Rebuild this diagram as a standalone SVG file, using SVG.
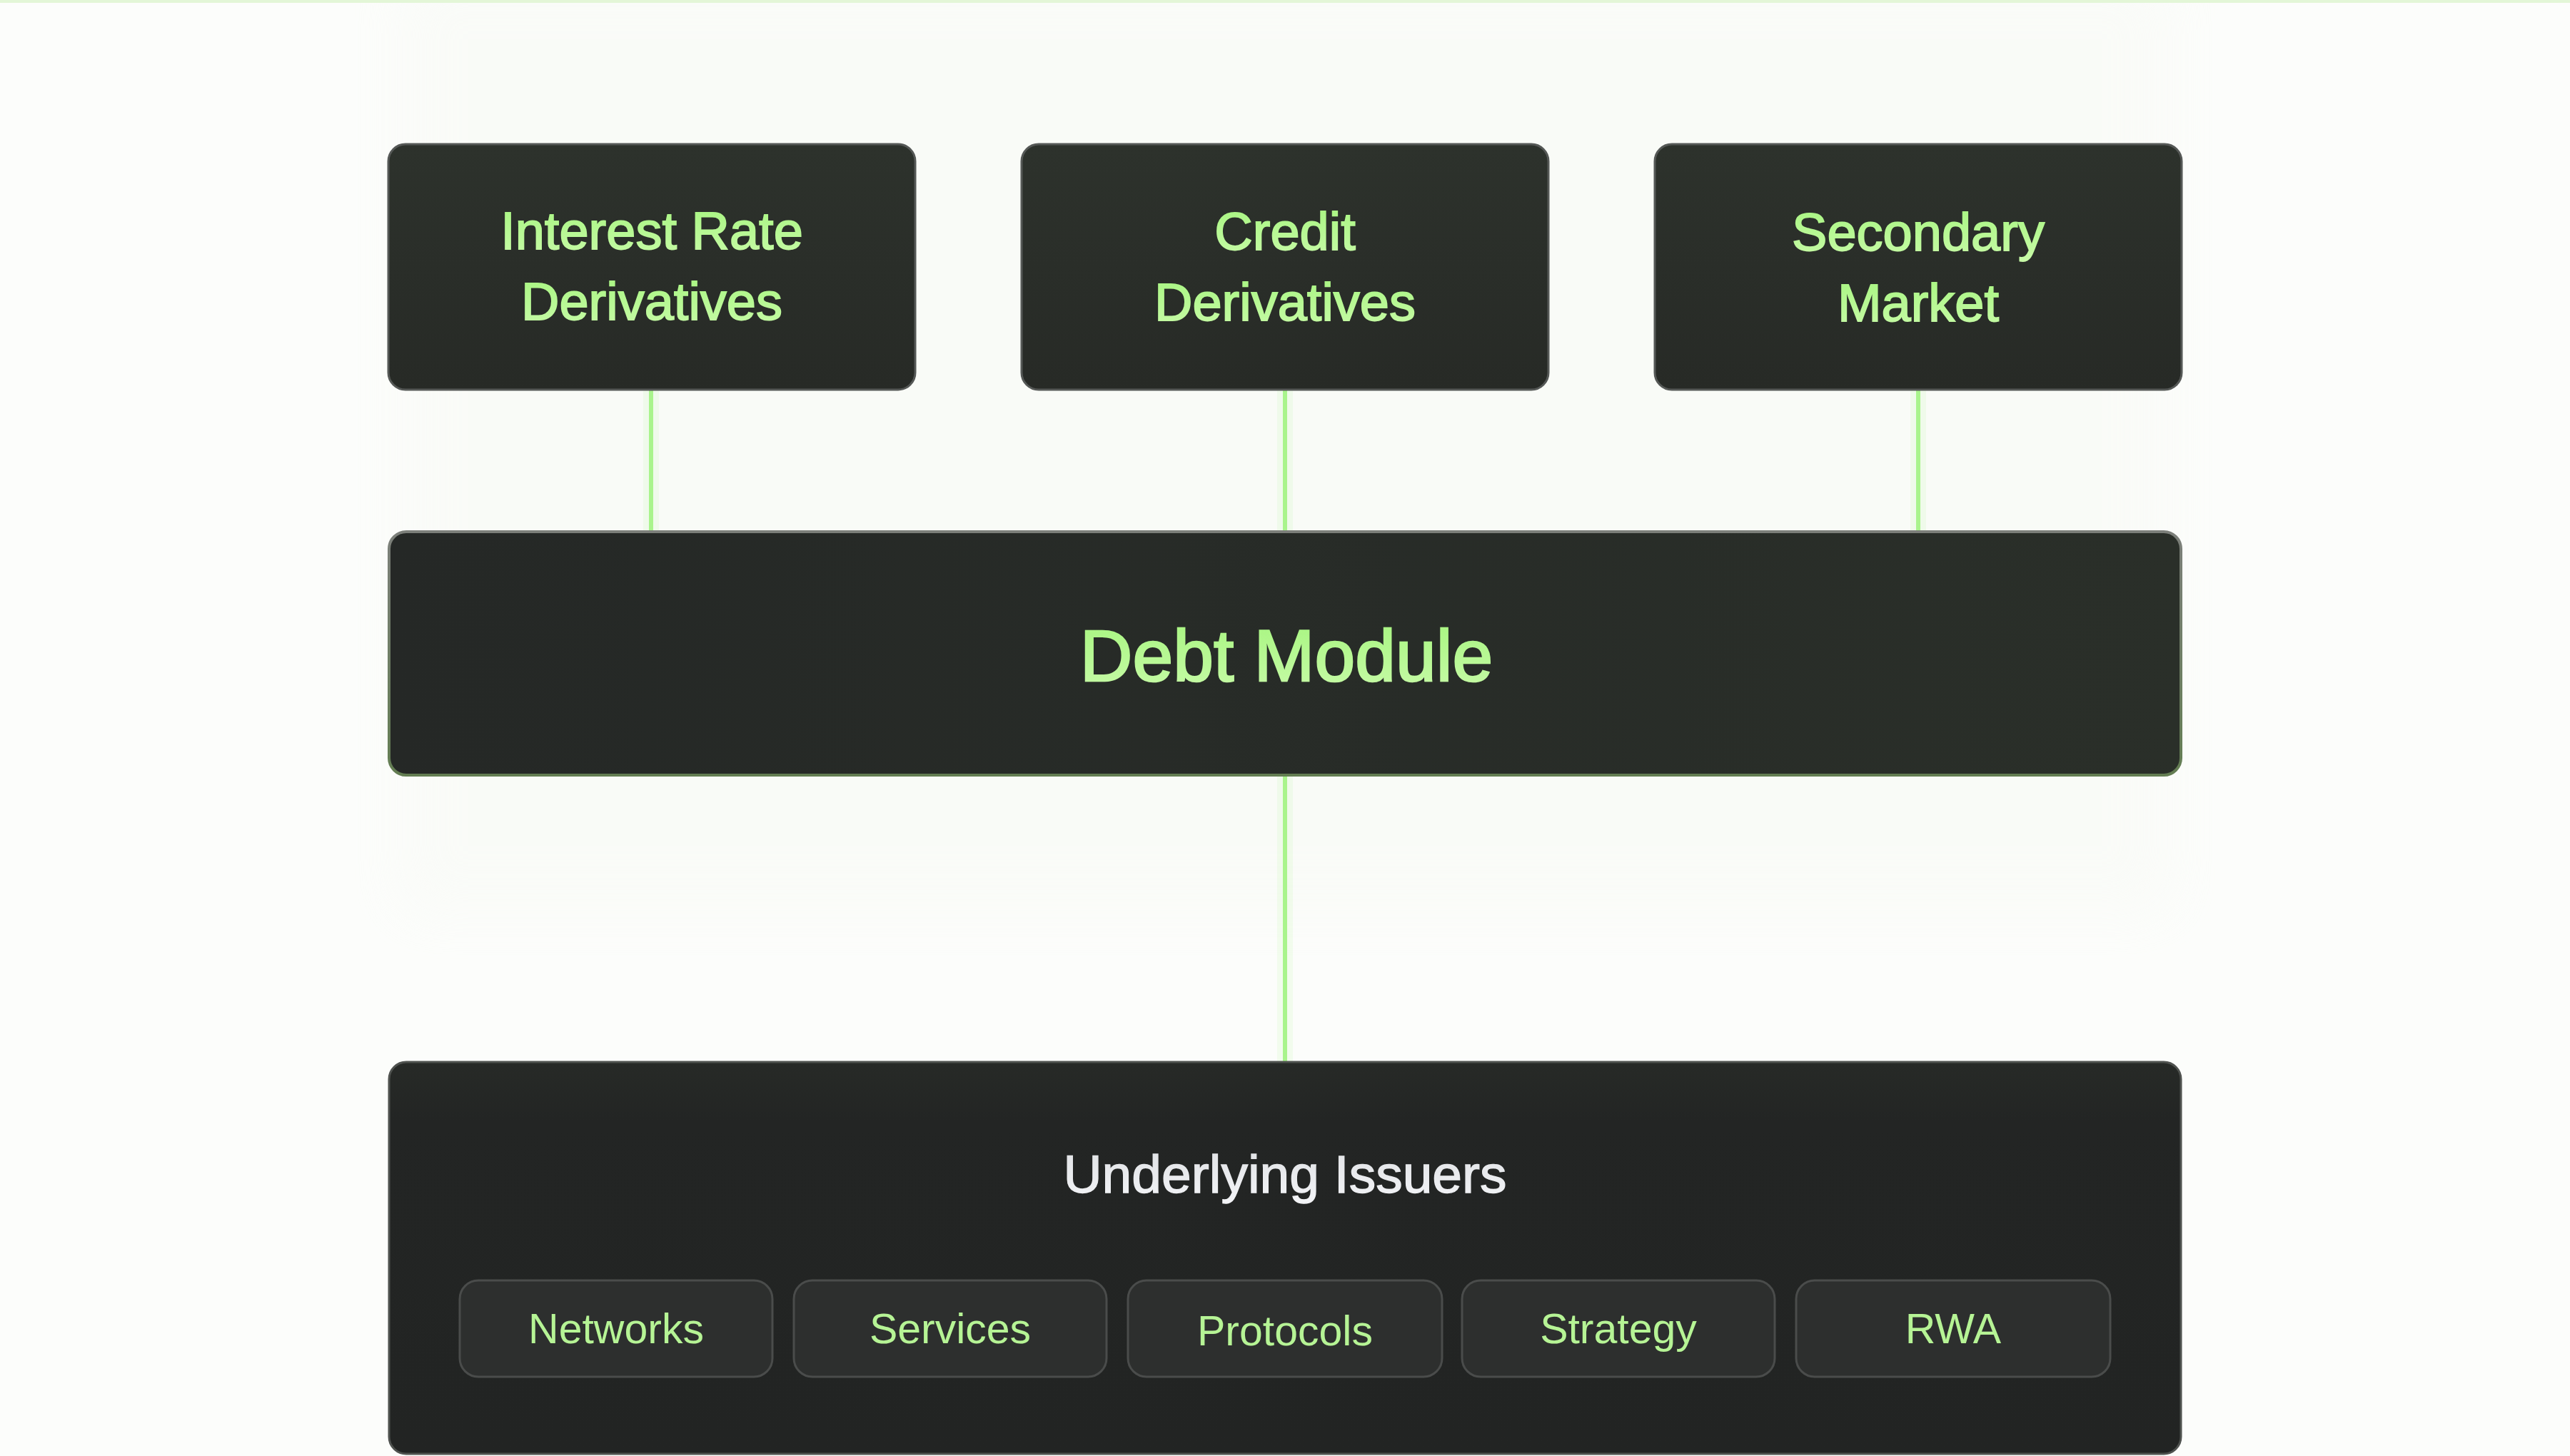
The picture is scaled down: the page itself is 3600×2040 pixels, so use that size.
<svg xmlns="http://www.w3.org/2000/svg" width="3600" height="2040" viewBox="0 0 3600 2040">
<defs>
<style>
.box{stroke:#555856;stroke-width:3}
.title{font-family:"Liberation Sans",Arial,sans-serif;font-size:74px;text-anchor:middle;fill:url(#txtg);stroke:url(#txtg);stroke-width:1.8}
.sub{font-family:"Liberation Sans",Arial,sans-serif;font-size:59px;text-anchor:middle;fill:#b6f495}
.chip{fill:#2d2f2e;stroke:#4a4c4b;stroke-width:3}
.conn{stroke:#a9f48c;stroke-width:6;fill:none}
.glow{stroke:#a9f48c;stroke-width:22;fill:none;opacity:0.12}
</style>
<linearGradient id="txtg" x1="0" y1="0" x2="0" y2="1">
<stop offset="0" stop-color="#a6f57f"/>
<stop offset="1" stop-color="#c8fba8"/>
</linearGradient>
<linearGradient id="wtxt" x1="0" y1="0" x2="0" y2="1">
<stop offset="0" stop-color="#dfe1e4"/>
<stop offset="1" stop-color="#f3f4f7"/>
</linearGradient>
<linearGradient id="topfill" x1="0" y1="0" x2="0" y2="1">
<stop offset="0" stop-color="#2d322c"/>
<stop offset="1" stop-color="#272a26"/>
</linearGradient>
<linearGradient id="debtfill" x1="0" y1="0" x2="1" y2="0">
<stop offset="0" stop-color="#252826"/>
<stop offset="1" stop-color="#2a2f29"/>
</linearGradient>
<linearGradient id="debtstroke" x1="0" y1="0" x2="0" y2="1">
<stop offset="0" stop-color="#7c7f7a"/>
<stop offset="1" stop-color="#637d52"/>
</linearGradient>
<linearGradient id="botfill" x1="0" y1="0" x2="0" y2="1">
<stop offset="0" stop-color="#272a27"/>
<stop offset="0.15" stop-color="#232524"/>
<stop offset="1" stop-color="#222423"/>
</linearGradient>
<filter id="soft" x="-10%" y="-10%" width="120%" height="120%">
<feGaussianBlur stdDeviation="40"/>
</filter>
</defs>
<rect x="0" y="0" width="3600" height="2040" fill="#fcfdfb"/>
<rect x="560" y="-40" width="2480" height="1320" fill="#f5f8f2" opacity="0.35" filter="url(#soft)"/>
<rect x="0" y="0" width="3600" height="4" fill="#e3f6d7"/>

<g id="connectors">
<line class="glow" x1="912" y1="546" x2="912" y2="744"/>
<line class="glow" x1="1800" y1="546" x2="1800" y2="744"/>
<line class="glow" x1="2687" y1="546" x2="2687" y2="744"/>
<line class="glow" x1="1800" y1="1087" x2="1800" y2="1487"/>
<line class="conn" x1="912" y1="546" x2="912" y2="744"/>
<line class="conn" x1="1800" y1="546" x2="1800" y2="744"/>
<line class="conn" x1="2687" y1="546" x2="2687" y2="744"/>
<line class="conn" x1="1800" y1="1087" x2="1800" y2="1487"/>
</g>

<g id="interest-rate-derivatives">
<rect class="box" x="544" y="202" width="738" height="344" rx="24" fill="url(#topfill)"/>
<text class="title" x="913" y="349">Interest Rate</text>
<text class="title" x="913" y="448">Derivatives</text>
</g>

<g id="credit-derivatives">
<rect class="box" x="1431" y="202" width="738" height="344" rx="24" fill="url(#topfill)"/>
<text class="title" x="1800" y="350">Credit</text>
<text class="title" x="1800" y="449">Derivatives</text>
</g>

<g id="secondary-market">
<rect class="box" x="2318" y="202" width="738" height="344" rx="24" fill="url(#topfill)"/>
<text class="title" x="2687" y="351">Secondary</text>
<text class="title" x="2687" y="450">Market</text>
</g>

<g id="debt-module">
<rect x="545" y="745" width="2510" height="341" rx="24" fill="url(#debtfill)" stroke="url(#debtstroke)" stroke-width="4"/>
<text class="title" x="1802" y="954" style="font-size:102px;stroke-width:2.6">Debt Module</text>
</g>

<g id="underlying-issuers">
<rect x="545" y="1488" width="2510" height="549" rx="24" fill="url(#botfill)" stroke="#4f524f" stroke-width="3"/>
<text x="1800" y="1671" font-family="Liberation Sans, Arial, sans-serif" font-size="75" text-anchor="middle" fill="url(#wtxt)" stroke="url(#wtxt)" stroke-width="1.4">Underlying Issuers</text>
<g id="networks">
<rect class="chip" x="644" y="1794" width="438" height="135" rx="26"/>
<text class="sub" x="863" y="1882">Networks</text>
</g>
<g id="services">
<rect class="chip" x="1112" y="1794" width="438" height="135" rx="26"/>
<text class="sub" x="1331" y="1882">Services</text>
</g>
<g id="protocols">
<rect class="chip" x="1580" y="1794" width="440" height="135" rx="26"/>
<text class="sub" x="1800" y="1885">Protocols</text>
</g>
<g id="strategy">
<rect class="chip" x="2048" y="1794" width="438" height="135" rx="26"/>
<text class="sub" x="2267" y="1882">Strategy</text>
</g>
<g id="rwa">
<rect class="chip" x="2516" y="1794" width="440" height="135" rx="26"/>
<text class="sub" x="2736" y="1882">RWA</text>
</g>
</g>
</svg>
